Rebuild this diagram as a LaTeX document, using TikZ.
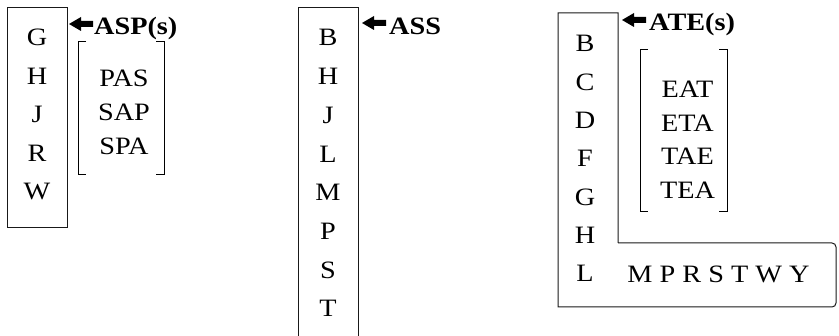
\documentclass[tikz,border=0pt]{standalone}
\usepackage{fontspec}
\setmainfont{Liberation Serif}[FakeStretch=1.13]
\begin{document}
\begin{tikzpicture}[x=1pt,y=-1pt,
  letter/.style={font=\fontsize{25}{25}\selectfont, anchor=base, inner sep=0pt},
  lbl/.style={font=\fontsize{25}{25}\selectfont\bfseries, anchor=base west, inner sep=0pt},
  frame/.style={draw=black!90, line width=1pt},
  brk/.style={draw=black, line width=1pt},
  fatarrow/.pic={\fill[black] (0,0) -- (12,-7) -- (12,-3) -- (24,-3) -- (24,3) -- (12,3) -- (12,7) -- cycle;}]
\useasboundingbox (0,0) rectangle (839,336);

% ---------- left group ----------
\draw[frame] (7,8) rectangle (67,228);
\foreach \t [count=\i from 0] in {G,H,J,R,W}
  \node[letter] (l\i) at (37,46+38.5*\i) {\t};
\coordinate (aspTip) at (69,24);
\pic at (aspTip) {fatarrow};
\node[lbl] (asp) at (94,35) {ASP(s)};
\draw[brk] (86,42) -- (78,42) -- (78,175) -- (86,175);
\draw[brk] (156,42) -- (164,42) -- (164,175) -- (156,175);
\foreach \t [count=\i from 0] in {PAS,SAP,SPA}
  \node[letter] (p\i) at (124,87+34*\i) {\t};

% ---------- middle group ----------
\draw[frame] (298,337) -- (298,8) -- (358,8) -- (358,337);
\foreach \t [count=\i from 0] in {B,H,J,L,M,P,S,T}
  \node[letter] (m\i) at (328,46+38.7*\i) {\t};
\coordinate (assTip) at (362,23);
\pic at (assTip) {fatarrow};
\node[lbl] (ass) at (389,35) {ASS};

% ---------- right group ----------
\draw[frame] (618,243) -- (618,13) -- (558,13) -- (558,307) -- (832,307)
  [rounded corners=4pt] -- (836,307) -- (836,243) -- (618,243);
\foreach \t [count=\i from 0] in {B,C,D,F,G,H,L}
  \node[letter] (r\i) at (585,52+38.3*\i) {\t};
\coordinate (ateTip) at (622,20);
\pic at (ateTip) {fatarrow};
\node[lbl] (ate) at (649,31) {ATE(s)};
\draw[brk] (648,50) -- (640,50) -- (640,212) -- (648,212);
\draw[brk] (719,50) -- (727,50) -- (727,212) -- (719,212);
\foreach \t [count=\i from 0] in {EAT,ETA,TAE,TEA}
  \node[letter] (e\i) at (687.5,98+33.5*\i) {\t};
\node[letter] (rest) at (718.5,283) {M P R S T W Y};
\end{tikzpicture}
\end{document}
